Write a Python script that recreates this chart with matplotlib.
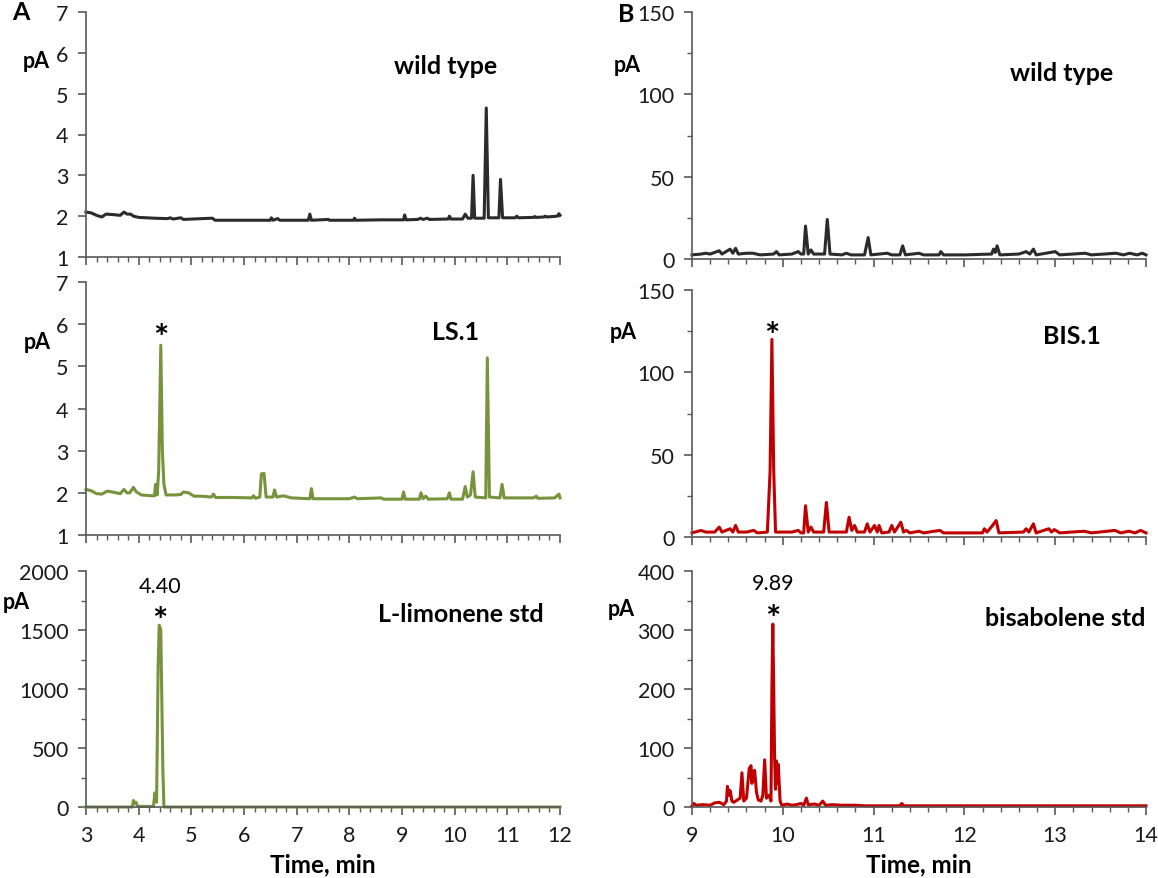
import matplotlib.pyplot as plt
from matplotlib.ticker import MultipleLocator

plt.rcParams['font.family'] = ['Lato', 'DejaVu Sans']

# ---- traces (time in min, signal in pA) ----
wt_a_t = [3.0, 3.1, 3.2, 3.3, 3.38, 3.5, 3.65, 3.72, 3.78, 3.85, 3.9, 4.0, 4.3, 4.55, 4.6, 4.65, 4.8, 4.85,
          5.2, 5.4, 5.45, 6.0, 6.5, 6.52, 6.55, 6.64, 6.68, 7.22, 7.25, 7.28, 7.6, 7.62, 8.08, 8.1, 8.12,
          8.6, 9.03, 9.05, 9.08, 9.3, 9.35, 9.4, 9.48, 9.52, 9.88, 9.9, 9.93, 10.15, 10.2, 10.25, 10.32,
          10.35, 10.38, 10.56, 10.6, 10.64, 10.84, 10.87, 10.91, 11.15, 11.18, 11.21, 11.5, 11.52, 11.55,
          11.7, 11.72, 11.75, 11.95, 11.98, 12.0]
wt_a_y = [2.1, 2.08, 2.02, 1.98, 2.05, 2.04, 2.02, 2.1, 2.05, 2.05, 2.0, 1.97, 1.95, 1.94, 1.96, 1.93, 1.96, 1.92,
          1.94, 1.95, 1.9, 1.9, 1.9, 1.96, 1.9, 1.94, 1.9, 1.9, 2.05, 1.9, 1.92, 1.9, 1.9, 1.95, 1.9,
          1.91, 1.91, 2.03, 1.91, 1.92, 1.95, 1.92, 1.95, 1.92, 1.93, 2.0, 1.93, 1.93, 2.05, 1.95, 1.95,
          3.0, 1.95, 1.95, 4.65, 1.96, 1.96, 2.9, 1.96, 1.96, 2.0, 1.96, 1.97, 1.99, 1.97,
          1.98, 2.0, 1.98, 2.0, 2.06, 2.02]

ls_a_t = [3.0, 3.1, 3.2, 3.3, 3.4, 3.5, 3.65, 3.72, 3.78, 3.83, 3.9, 3.95, 4.05, 4.25, 4.3, 4.32, 4.35, 4.38,
          4.42, 4.45, 4.48, 4.52, 4.7, 4.8, 4.85, 4.95, 5.05, 5.2, 5.38, 5.42, 5.46, 5.8, 6.15, 6.18, 6.22,
          6.3, 6.33, 6.38, 6.42, 6.55, 6.58, 6.62, 6.75, 6.9, 7.25, 7.28, 7.31, 8.0, 8.1, 8.15, 8.6, 8.65,
          9.0, 9.03, 9.06, 9.33, 9.36, 9.4, 9.45, 9.5, 9.86, 9.9, 9.93, 10.15, 10.2, 10.24, 10.3, 10.35,
          10.39, 10.59, 10.62, 10.66, 10.86, 10.9, 10.94, 11.5, 11.55, 11.58, 11.9, 11.98, 12.0]
ls_a_y = [2.08, 2.05, 1.98, 1.97, 2.04, 2.02, 1.98, 2.08, 2.0, 2.0, 2.13, 2.03, 1.95, 1.93, 1.93, 2.2, 1.95, 2.5,
          5.5, 3.0, 2.2, 1.95, 1.95, 1.96, 2.02, 2.0, 1.92, 1.92, 1.9, 1.97, 1.89, 1.89, 1.88, 1.93, 1.87,
          1.9, 2.45, 2.46, 1.9, 1.9, 2.07, 1.9, 1.93, 1.88, 1.86, 2.1, 1.86, 1.86, 1.9, 1.86, 1.88, 1.85,
          1.85, 2.02, 1.85, 1.85, 2.0, 1.86, 1.92, 1.85, 1.86, 2.0, 1.85, 1.85, 2.15, 1.9, 1.95, 2.5,
          1.9, 1.88, 5.2, 1.9, 1.88, 2.2, 1.88, 1.88, 1.92, 1.87, 1.88, 1.97, 1.88]

lim_a_t = [3.0, 3.88, 3.9, 3.93, 3.95, 3.98, 4.28, 4.31, 4.34, 4.37, 4.39, 4.42, 4.46, 4.48, 12.0]
lim_a_y = [0, 0, 55, 30, 40, 5, 5, 120, 40, 1200, 1540, 1500, 300, 0, 0]

wt_b_t = [9.0, 9.1, 9.15, 9.2, 9.3, 9.33, 9.42, 9.45, 9.48, 9.51, 9.6, 9.67, 9.75, 9.9, 9.93, 9.96, 10.1,
          10.17, 10.2, 10.23, 10.25, 10.28, 10.31, 10.34, 10.46, 10.49, 10.52, 10.65, 10.7, 10.75, 10.9,
          10.94, 10.97, 11.15, 11.2, 11.29, 11.32, 11.35, 11.5, 11.55, 11.72, 11.74, 11.77, 12.0, 12.3,
          12.32, 12.34, 12.36, 12.39, 12.6, 12.68, 12.72, 12.76, 12.79, 12.95, 13.0, 13.05, 13.33, 13.4,
          13.67, 13.75, 13.82, 13.9, 13.96, 14.0]
wt_b_y = [2.5, 3, 3.5, 3, 5, 3, 6, 3.5, 6.5, 3, 3.5, 3.5, 2.5, 3, 4.5, 2.5, 3,
          4.5, 3, 3, 20, 3, 5.5, 3, 3, 24, 3, 2.5, 3.5, 2.5, 2.5,
          13, 2.5, 3.5, 2.5, 2.5, 8, 2.5, 3.5, 2.5, 2.5, 4.5, 2.5, 2.5, 3,
          6, 4, 8, 2.5, 3, 4.5, 3, 6, 2.5, 4, 4.5, 2.5, 3.5, 2.5,
          3.5, 2.5, 3.5, 2.5, 3.5, 2.5]

bis_b_t = [9.0, 9.1, 9.15, 9.25, 9.3, 9.33, 9.42, 9.45, 9.48, 9.51, 9.6, 9.68, 9.72, 9.83, 9.86, 9.88, 9.9,
           9.92, 10.1, 10.17, 10.2, 10.23, 10.25, 10.28, 10.31, 10.34, 10.45, 10.48, 10.51, 10.7, 10.73,
           10.76, 10.79, 10.82, 10.9, 10.93, 10.96, 11.01, 11.04, 11.06, 11.09, 11.17, 11.2, 11.23, 11.3,
           11.33, 11.36, 11.4, 11.5, 11.55, 11.73, 11.77, 12.2, 12.22, 12.25, 12.31, 12.35, 12.38, 12.65,
           12.68, 12.71, 12.76, 12.79, 12.93, 12.96, 12.99, 13.05, 13.32, 13.4, 13.66, 13.72, 13.81, 13.88,
           13.94, 14.0]
bis_b_y = [2.5, 4, 3, 3, 6, 3, 5, 3, 7, 3, 3, 4, 2.5, 3, 40, 120, 40,
           3, 3, 4, 2.5, 2.5, 19, 3, 6, 3, 3, 21, 3, 3, 12,
           4, 7, 3, 3, 8, 3, 7, 3, 7, 2.5, 3, 7, 3, 9,
           3, 4, 2.5, 3.5, 2.5, 4, 2.5, 2.5, 5, 3, 7, 10, 2.5, 3,
           5, 3, 8, 2.5, 5, 3, 4.5, 2.5, 3.5, 2.5, 4, 2.5, 3.5, 2.5,
           4, 2.5]

bisab_b_t = [9.0, 9.02, 9.05, 9.12, 9.2, 9.25, 9.3, 9.35, 9.38, 9.39, 9.41, 9.42, 9.44, 9.46, 9.5, 9.53, 9.55,
             9.57, 9.6, 9.63, 9.65, 9.66, 9.67, 9.69, 9.71, 9.73, 9.76, 9.78, 9.8, 9.82, 9.85, 9.87, 9.88,
             9.89, 9.9, 9.91, 9.92, 9.93, 9.94, 9.95, 9.97, 9.99, 10.05, 10.1, 10.15, 10.2, 10.23, 10.26,
             10.28, 10.35, 10.4, 10.44, 10.47, 10.55, 10.65, 10.8, 10.9, 11.29, 11.31, 11.33, 14.0]
bisab_b_y = [2, 6, 3, 4, 3, 7, 8, 4, 10, 35, 20, 28, 10, 8, 12, 15, 58,
             10, 15, 65, 70, 40, 60, 62, 25, 12, 10, 20, 80, 15, 20, 10, 200,
             310, 200, 80, 30, 78, 40, 72, 10, 3, 5, 3, 4, 6, 3, 15,
             4, 5, 3, 10, 3, 4, 3, 3, 2, 2, 6, 2, 2]

DARK = '#2b2b2b'
GREEN = '#77933c'
RED = '#c00000'
AXC = '#595959'

fig = plt.figure(figsize=(11.58, 8.79), dpi=100)
W, H = 1158.0, 879.0


def make_ax(x0, x1, ytop, ybot):
    return fig.add_axes([x0 / W, 1 - ybot / H, (x1 - x0) / W, (ybot - ytop) / H])


def style(ax, xlim, ylim, ymaj, ymin, bottom):
    ax.set_xlim(*xlim)
    ax.set_ylim(*ylim)
    for s in ['top', 'right']:
        ax.spines[s].set_visible(False)
    for s in ['left', 'bottom']:
        ax.spines[s].set_color(AXC)
        ax.spines[s].set_linewidth(1.2)
    ax.xaxis.set_major_locator(MultipleLocator(1))
    ax.xaxis.set_minor_locator(MultipleLocator(0.2))
    ax.yaxis.set_major_locator(MultipleLocator(ymaj))
    if ymin:
        ax.yaxis.set_minor_locator(MultipleLocator(ymin))
    ax.tick_params(which='major', direction='out', length=6, width=1.2, color=AXC,
                   labelsize=15.5, labelcolor='#1a1a1a')
    ax.tick_params(axis='y', which='major', pad=6.5)
    ax.tick_params(axis='x', which='major', pad=7)
    ax.tick_params(which='minor', direction='out', length=3.5, width=1.0, color=AXC)
    if not bottom:
        ax.tick_params(axis='x', labelbottom=False)
    else:
        ax.set_xlabel('Time, min', fontsize=17.5, fontweight='bold', labelpad=5)


panels = [
    # (xl, xr, ytop, ybot, t, y, color, xlim, ylim, ymaj, ymin, bottom, label, lab_xy, pa_xy)
    (86, 560, 13, 258, wt_a_t, wt_a_y, DARK, (3, 12), (1, 7), 1, None, False, 'wild type', (0.758, 0.78), (-0.105, 0.80)),
    (86, 560, 283, 536, ls_a_t, ls_a_y, GREEN, (3, 12), (1, 7), 1, None, False, 'LS.1', (0.78, 0.806), (-0.102, 0.763)),
    (86, 560, 572, 808, lim_a_t, lim_a_y, GREEN, (3, 12), (0, 2000), 500, 250, True, 'L-limonene std', (0.79, 0.818), (-0.147, 0.869)),
    (692, 1146, 13, 260, wt_b_t, wt_b_y, DARK, (9, 14), (0, 150), 50, 25, False, 'wild type', (0.815, 0.757), (-0.142, 0.789)),
    (692, 1146, 291, 538, bis_b_t, bis_b_y, RED, (9, 14), (0, 150), 50, 25, False, 'BIS.1', (0.837, 0.814), (-0.151, 0.834)),
    (692, 1146, 572, 808, bisab_b_t, bisab_b_y, RED, (9, 14), (0, 400), 100, 50, True, 'bisabolene std', (0.822, 0.805), (-0.156, 0.843)),
]

axes = []
for (xl, xr, yt, yb, t, y, col, xlim, ylim, ymaj, ymin, bottom, lab, lxy, pxy) in panels:
    ax = make_ax(xl, xr, yt, yb)
    ax.plot(t, y, color=col, lw=2.2, clip_on=False, solid_joinstyle='round')
    style(ax, xlim, ylim, ymaj, ymin, bottom)
    ax.text(lxy[0], lxy[1], lab, transform=ax.transAxes, ha='center', va='center',
            fontsize=18, fontweight='bold')
    ax.text(pxy[0], pxy[1], 'pA', transform=ax.transAxes, ha='center', va='center',
            fontsize=15.5, fontweight='bold')
    axes.append(ax)

# peak marks
star = dict(ha='center', va='center', fontsize=26, fontweight='bold')
axes[1].text(4.43, 5.65, '*', **star)
axes[2].text(4.40, 1570, '*', **star)
axes[2].text(4.40, 1870, '4.40', ha='center', va='center', fontsize=15.5)
axes[4].text(9.88, 122, '*', **star)
axes[5].text(9.89, 318, '*', **star)
axes[5].text(9.89, 380, '9.89', ha='center', va='center', fontsize=15.5)

fig.text(12 / W, 1 - 13 / H, 'A', fontsize=18, fontweight='bold', ha='left', va='center')
fig.text(618 / W, 1 - 14 / H, 'B', fontsize=18, fontweight='bold', ha='left', va='center')

fig.savefig('out.png', dpi=100)
